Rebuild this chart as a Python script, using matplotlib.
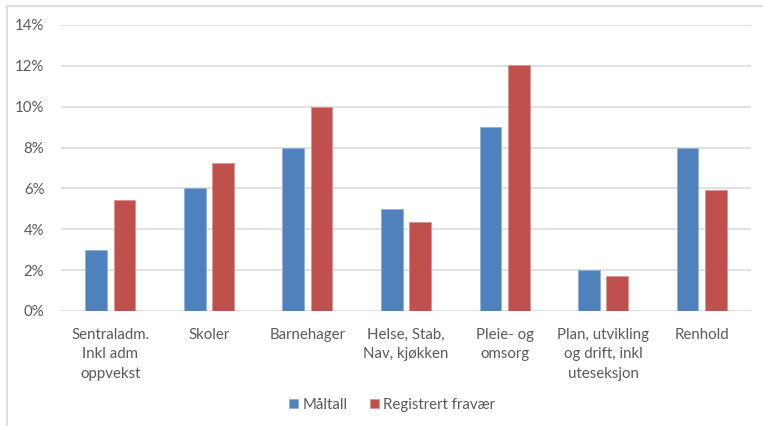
import numpy as np
import matplotlib
matplotlib.use("Agg")
import matplotlib.pyplot as plt
from matplotlib.lines import Line2D

plt.rcParams['font.family'] = ['Lato', 'DejaVu Sans']

# data
kategorier = ["Sentraladm.\nInkl adm\noppvekst", "Skoler", "Barnehager",
              "Helse, Stab,\nNav, kjøkken", "Pleie- og\nomsorg",
              "Plan, utvikling\nog drift, inkl\nuteseksjon", "Renhold"]
maltall = [3, 6, 8, 5, 9, 2, 8]
registrert = [5.45, 7.25, 10.0, 4.35, 12.05, 1.7, 5.9]
serier = ["Måltall", "Registrert fravær"]

fig = plt.figure(figsize=(7.63, 4.26), dpi=100)
ax = fig.add_axes([61/763, 1-311/426, 690/763, 286/426])

x = np.arange(len(kategorier))
b = 0.22
ax.bar(x - 0.143, maltall, b, color="#4F81BD", edgecolor="#8FB0DA", linewidth=0.6, label=serier[0], zorder=3)
ax.bar(x + 0.143, registrert, b, color="#C0504D", edgecolor="#DC9492", linewidth=0.6, label=serier[1], zorder=3)

ax.set_xlim(-0.5, len(kategorier) - 0.5)
ax.set_ylim(0, 14)
ax.set_yticks(np.arange(0, 15, 2))
ax.set_yticklabels([f"{v}%" for v in range(0, 15, 2)])
ax.grid(axis="y", color="#D9D9D9", linewidth=1.1, zorder=0)
ax.set_xticks(x)
ax.set_xticklabels(kategorier, linespacing=1.5)
ax.tick_params(length=0, labelsize=10.8, colors="#595959")
ax.tick_params(axis="y", pad=12)
ax.tick_params(axis="x", pad=12)
for s in ax.spines.values():
    s.set_visible(False)

leg = fig.legend(loc="center", bbox_to_anchor=(392/763, 1-405/426), ncol=2, frameon=False,
                 fontsize=10.8, handlelength=0.6, handleheight=0.6, handletextpad=0.3,
                 columnspacing=1.5)
for t in leg.get_texts():
    t.set_color("#595959")

# ramme rundt diagrammet
fig.add_artist(Line2D([7/763, 1], [1-6/426, 1-6/426], color="#D9D9D9", linewidth=1.2))
fig.add_artist(Line2D([7/763, 7/763], [0, 1-6/426], color="#D9D9D9", linewidth=1.2))

fig.savefig("out.png", dpi=100)
